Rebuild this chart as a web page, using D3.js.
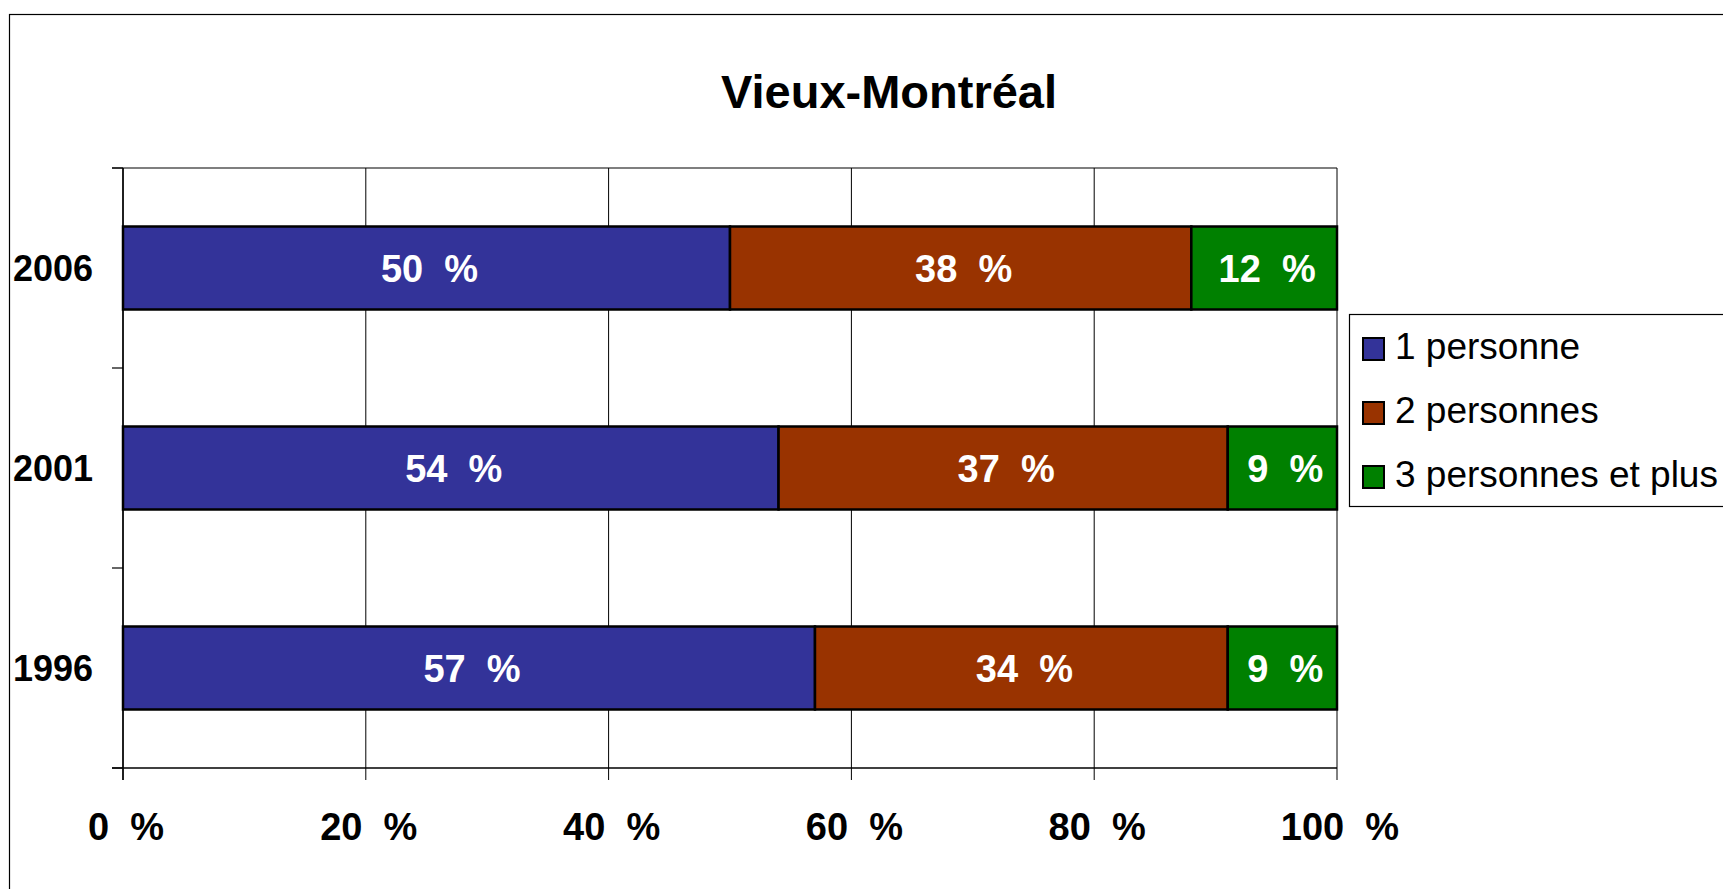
<!DOCTYPE html>
<html>
<head>
<meta charset="utf-8">
<script src="https://cdn.jsdelivr.net/npm/d3@7"></script>
<style>
  body { margin: 0; background: #fff; }
  svg { display: block; }
  text { font-family: Arial, 'Liberation Sans', sans-serif; white-space: pre; }
</style>
</head>
<body>
<svg id="chart" width="1723" height="889"></svg>
<script>
// data
const years = ['2006', '2001', '1996'];
const series = ['1 personne', '2 personnes', '3 personnes et plus'];
const onePerson = [50, 54, 57];
const twoPersons = [38, 37, 34];
const threePlus = [12, 9, 9];
const xTicks = [0, 20, 40, 60, 80, 100];
const colors = ['#333399', '#993300', '#008000'];

const svg = d3.select('#chart');
const W = 1723, H = 889;
const plot = { left: 123, right: 1337, top: 168, bottom: 768 };

svg.append('rect').attr('width', W).attr('height', H).attr('fill', '#fff');

// outer frame (right/bottom edges fall outside the picture)
svg.append('rect')
    .attr('x', 9.5).attr('y', 14.5)
    .attr('width', 1780).attr('height', 900)
    .attr('fill', 'none').attr('stroke', '#000').attr('stroke-width', 1.2);

svg.append('text')
    .attr('x', 889).attr('y', 108)
    .attr('text-anchor', 'middle')
    .style('font-size', '47px').style('font-weight', 'bold')
    .text('Vieux-Montréal');

const x = d3.scaleLinear().domain([0, 100]).range([plot.left, plot.right]);
const y = d3.scaleBand().domain(years).range([plot.top, plot.bottom])
    .paddingInner(0.585).paddingOuter(0.2925);

// stack the three series
const rows = years.map((yr, i) => ({ year: yr, a: onePerson[i], b: twoPersons[i], c: threePlus[i] }));
const stacked = d3.stack().keys(['a', 'b', 'c'])(rows);

// gridlines
svg.append('g').selectAll('line')
    .data(xTicks)
    .enter().append('line')
    .attr('x1', d => x(d)).attr('x2', d => x(d))
    .attr('y1', plot.top).attr('y2', plot.bottom + 12)
    .attr('stroke', '#000').attr('stroke-width', 1);

// top border + y ticks at band edges
const yEdges = [plot.top, plot.top + y.step(), plot.top + 2 * y.step(), plot.bottom];
svg.append('line')
    .attr('x1', plot.left - 11).attr('x2', plot.right)
    .attr('y1', plot.top).attr('y2', plot.top)
    .attr('stroke', '#000').attr('stroke-width', 1.2);
svg.append('g').selectAll('line')
    .data(yEdges)
    .enter().append('line')
    .attr('x1', plot.left - 11).attr('x2', plot.left)
    .attr('y1', d => d).attr('y2', d => d)
    .attr('stroke', '#000').attr('stroke-width', 1.2);

// axes lines
svg.append('line')
    .attr('x1', plot.left - 11).attr('x2', plot.right)
    .attr('y1', plot.bottom).attr('y2', plot.bottom)
    .attr('stroke', '#000').attr('stroke-width', 1.5);
svg.append('line')
    .attr('x1', plot.left).attr('x2', plot.left)
    .attr('y1', plot.top).attr('y2', plot.bottom + 12)
    .attr('stroke', '#000').attr('stroke-width', 1.5);

// bars
const layer = svg.append('g').selectAll('g')
    .data(stacked)
    .enter().append('g')
    .attr('fill', (d, i) => colors[i]);

layer.selectAll('rect')
    .data(d => d)
    .enter().append('rect')
    .attr('x', d => x(d[0]))
    .attr('y', d => y(d.data.year))
    .attr('width', d => x(d[1]) - x(d[0]))
    .attr('height', y.bandwidth())
    .attr('stroke', '#000').attr('stroke-width', 2.5);

layer.selectAll('text')
    .data(d => d)
    .enter().append('text')
    .attr('x', d => (x(d[0]) + x(d[1])) / 2 + 3)
    .attr('y', d => y(d.data.year) + y.bandwidth() / 2)
    .attr('dy', '0.36em')
    .attr('text-anchor', 'middle')
    .attr('fill', '#fff')
    .style('font-size', '38px').style('font-weight', 'bold')
    .text(d => (d[1] - d[0]) + '  %');

// y labels
svg.append('g').selectAll('text')
    .data(years)
    .enter().append('text')
    .attr('x', 93)
    .attr('y', d => y(d) + y.bandwidth() / 2)
    .attr('dy', '0.36em')
    .attr('text-anchor', 'end')
    .style('font-size', '36px').style('font-weight', 'bold')
    .text(d => d);

// x labels
svg.append('g').selectAll('text')
    .data(xTicks)
    .enter().append('text')
    .attr('x', d => x(d) + 3)
    .attr('y', 840)
    .attr('text-anchor', 'middle')
    .style('font-size', '38px').style('font-weight', 'bold')
    .text(d => d + '  %');

// legend
const lg = svg.append('g').attr('transform', 'translate(1349,314)');
lg.append('rect')
    .attr('x', 0.5).attr('y', 0.5).attr('width', 420).attr('height', 192)
    .attr('fill', '#fff').attr('stroke', '#000').attr('stroke-width', 1.2);
const item = lg.selectAll('g.item')
    .data(series)
    .enter().append('g')
    .attr('class', 'item')
    .attr('transform', (d, i) => `translate(0,${24 + i * 64})`);
item.append('rect')
    .attr('x', 14).attr('y', 0).attr('width', 21).attr('height', 22)
    .attr('fill', (d, i) => colors[i])
    .attr('stroke', '#000').attr('stroke-width', 2);
item.append('text')
    .attr('x', 46).attr('y', 21)
    .style('font-size', '37px')
    .text(d => d);
</script>
</body>
</html>
